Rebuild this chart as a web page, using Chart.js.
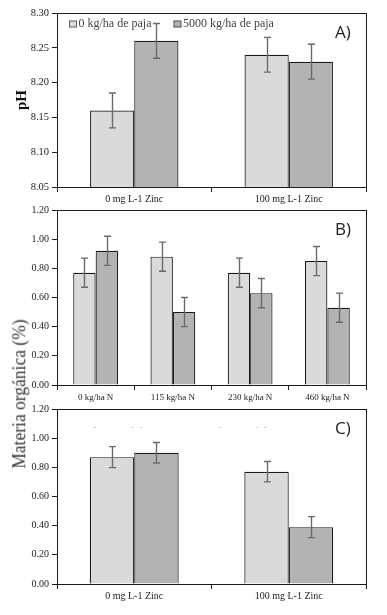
<!DOCTYPE html>
<html>
<head>
<meta charset="utf-8">
<script src="https://cdn.jsdelivr.net/npm/chart.js@4.4.0/dist/chart.umd.min.js"></script>
<style>
  html, body { margin:0; padding:0; background:#fff; }
  #wrap { position:relative; width:387px; height:615px; overflow:hidden; background:#fff; }
  canvas { position:absolute; left:0; top:0; }
  #ytitle { position:absolute; left:19px; top:394px; transform:translate(-50%,-50%) rotate(-90deg) scale(1,1.12);
    font-family:"Liberation Serif", serif; font-size:17.5px; color:#333; white-space:nowrap; }
</style>
</head>
<body>
<div id="wrap">
  <canvas id="cA" width="387" height="615"></canvas>
  <canvas id="cB" width="387" height="615"></canvas>
  <canvas id="cC" width="387" height="615"></canvas>
  <div id="ytitle">Materia orgánica (%)</div>
</div>
<script>
// ---- Data ----
const seriesLabels = ['0 kg/ha de paja', '5000 kg/ha de paja'];

const catsA = ['0 mg L-1 Zinc', '100 mg L-1 Zinc'];
const phNoStraw = [8.16, 8.24];
const phStraw = [8.26, 8.23];
const phErrNoStraw = [0.025, 0.025];
const phErrStraw = [0.025, 0.025];
const ticksA = [8.05, 8.10, 8.15, 8.20, 8.25, 8.30];

const catsB = ['0 kg/ha N', '115 kg/ha N', '230 kg/ha N', '460 kg/ha N'];
const moNNoStraw = [0.77, 0.88, 0.77, 0.85];
const moNStraw = [0.92, 0.50, 0.63, 0.53];
const moNErrNoStraw = [0.10, 0.10, 0.10, 0.10];
const moNErrStraw = [0.10, 0.10, 0.10, 0.10];

const catsC = ['0 mg L-1 Zinc', '100 mg L-1 Zinc'];
const moZnNoStraw = [0.87, 0.77];
const moZnStraw = [0.90, 0.39];
const moZnErrNoStraw = [0.072, 0.07];
const moZnErrStraw = [0.07, 0.072];
const ticksMO = [0, 0.2, 0.4, 0.6, 0.8, 1.0, 1.2];

// ---- Styles ----
const LIGHT = '#dadada';
const DARK = '#b3b3b3';
const SERIF = '"Liberation Serif", "Times New Roman", serif';
const W = 387, H = 615;

// Plugins
const frame = {
  id: 'frame',
  afterDraw(chart) {
    const a = chart.chartArea, ctx = chart.ctx;
    ctx.save();
    ctx.strokeStyle = '#1a1a1a';
    ctx.lineWidth = 1;
    ctx.strokeRect(Math.round(a.left) + 0.5, Math.round(a.top) + 0.5,
      Math.round(a.right - a.left), Math.round(a.bottom - a.top));
    ctx.restore();
  }
};

const errorBars = {
  id: 'errorBars',
  afterDatasetsDraw(chart) {
    const ctx = chart.ctx, y = chart.scales.y;
    ctx.save();
    ctx.strokeStyle = '#6b6b6b';
    ctx.lineWidth = 1.4;
    chart.data.datasets.forEach((ds, di) => {
      const meta = chart.getDatasetMeta(di);
      meta.data.forEach((bar, i) => {
        const v = ds.data[i], e = ds.errors[i];
        const x = Math.round(bar.x) + 0.5;
        const yt = y.getPixelForValue(v + e), yb = y.getPixelForValue(v - e);
        ctx.beginPath();
        ctx.moveTo(x, yt); ctx.lineTo(x, yb);
        ctx.moveTo(x - 3.5, yt); ctx.lineTo(x + 3.5, yt);
        ctx.moveTo(x - 3.5, yb); ctx.lineTo(x + 3.5, yb);
        ctx.stroke();
      });
    });
    ctx.restore();
  }
};

const panelLabel = {
  id: 'panelLabel',
  afterDraw(chart, args, opts) {
    const a = chart.chartArea, ctx = chart.ctx;
    ctx.save();
    ctx.fillStyle = '#222';
    ctx.font = '17px "Open Sans", sans-serif';
    ctx.textBaseline = 'middle';
    ctx.fillText(opts.text, a.right - 31, a.top + 20);
    if (opts.ghost) {
      ctx.fillStyle = '#c4c4c4';
      ctx.font = '10px ' + SERIF;
      opts.ghost.forEach(g => ctx.fillText(g.t, a.left + g.dx, a.top + 18));
    }
    ctx.restore();
  }
};

const miniLegend = {
  id: 'miniLegend',
  afterDraw(chart, args, opts) {
    if (!opts.show) return;
    const a = chart.chartArea, ctx = chart.ctx;
    ctx.save();
    ctx.font = '12px ' + SERIF;
    ctx.textBaseline = 'middle';
    let x = a.left + 12;
    const yc = a.top + 11;
    chart.data.datasets.forEach(ds => {
      ctx.fillStyle = ds.backgroundColor;
      ctx.fillRect(x, yc - 3.5, 8, 7);
      ctx.strokeStyle = '#444';
      ctx.lineWidth = 0.8;
      ctx.strokeRect(x + 0.5, yc - 3.5 + 0.5, 7, 6);
      ctx.fillStyle = '#444';
      ctx.fillText(ds.label, x + 9.5, yc);
      x += 9.5 + ctx.measureText(ds.label).width + 22;
    });
    ctx.restore();
  }
};

function makeChart(id, cats, a, b, ea, eb, tickVals, opts) {
  const ctx = document.getElementById(id);
  return new Chart(ctx, {
    type: 'bar',
    data: {
      labels: cats,
      datasets: [
        { label: seriesLabels[0], data: a, errors: ea, backgroundColor: LIGHT,
          borderColor: '#1a1a1a', borderWidth: 1.2, borderSkipped: 'bottom' },
        { label: seriesLabels[1], data: b, errors: eb, backgroundColor: DARK,
          borderColor: '#1a1a1a', borderWidth: 1.2, borderSkipped: 'bottom' }
      ]
    },
    options: {
      responsive: false,
      animation: false,
      events: [],
      layout: { autoPadding: false,
        padding: { left: 0, right: W - opts.right, top: opts.top, bottom: H - opts.bottom - 18 } },
      datasets: { bar: { categoryPercentage: opts.catPct, barPercentage: 1.0 } },
      plugins: {
        legend: { display: false },
        tooltip: { enabled: false },
        panelLabel: { text: opts.label, ghost: opts.ghost },
        miniLegend: { show: !!opts.legend }
      },
      scales: {
        x: {
          afterFit(s) { s.height = 18; },
          border: { display: false },
          grid: { display: true, drawOnChartArea: false, offset: true, tickLength: 5, color: '#1a1a1a', lineWidth: 1 },
          ticks: { font: { family: SERIF, size: opts.xfont || 10 }, color: '#1a1a1a', padding: opts.xpad || 1, maxRotation: 0, autoSkip: false }
        },
        y: {
          min: tickVals[0], max: tickVals[tickVals.length - 1],
          afterFit(s) { s.width = opts.left; },
          afterBuildTicks(s) { s.ticks = tickVals.map(v => ({ value: v })); },
          border: { display: false },
          grid: { display: true, drawOnChartArea: false, tickLength: 5, color: '#1a1a1a', lineWidth: 1 },
          ticks: { font: { family: SERIF, size: opts.yfont || 10 }, color: '#222', padding: 3,
            callback: v => Number(v).toFixed(2) },
          title: opts.ytitle ? { display: true, text: opts.ytitle,
            font: { family: SERIF, size: 15, weight: 'bold' }, color: '#111',
            padding: { top: 13, bottom: 0 } } : { display: false }
        }
      }
    },
    plugins: [frame, errorBars, panelLabel, miniLegend]
  });
}

makeChart('cA', catsA, phNoStraw, phStraw, phErrNoStraw, phErrStraw, ticksA,
  { left: 57, right: 366, top: 13, bottom: 187, catPct: 0.572, label: 'A)', legend: true, ytitle: 'pH', yfont: 10.5 });
makeChart('cB', catsB, moNNoStraw, moNStraw, moNErrNoStraw, moNErrStraw, ticksMO,
  { left: 57, right: 366, top: 210, bottom: 385, catPct: 0.58, label: 'B)', xfont: 9, xpad: 2 });
makeChart('cC', catsC, moZnNoStraw, moZnStraw, moZnErrNoStraw, moZnErrStraw, ticksMO,
  { left: 57, right: 366, top: 409, bottom: 584, catPct: 0.575, label: 'C)',
    ghost: [{ t: '-', dx: 36 }, { t: '-  -', dx: 74 }, { t: '-', dx: 161 }, { t: '-  -', dx: 198 }] });
</script>
</body>
</html>
